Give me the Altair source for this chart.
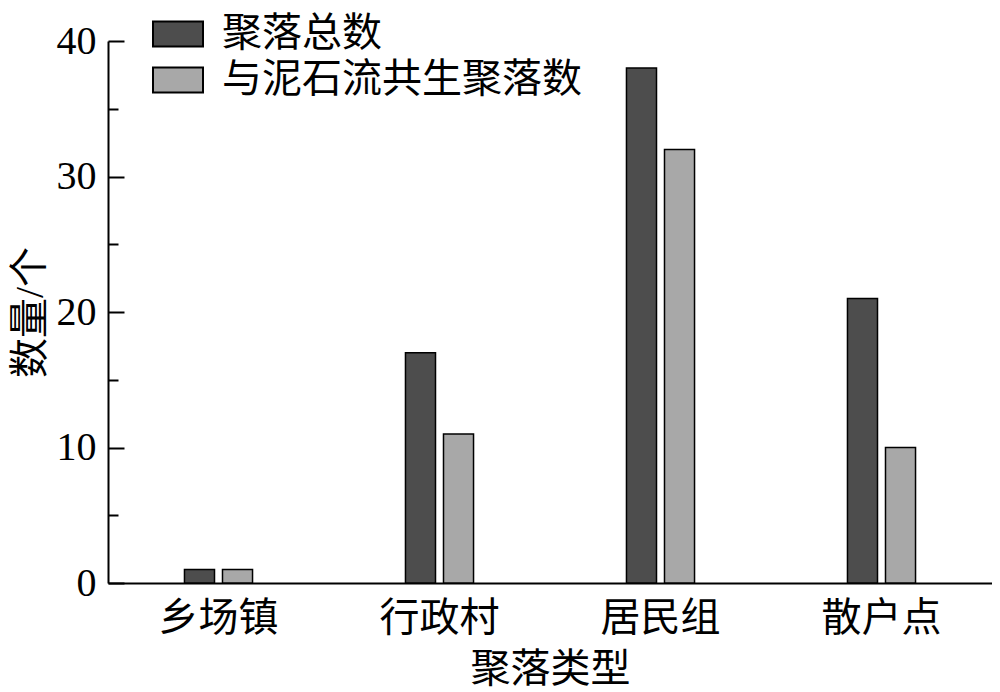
import altair as alt
import pandas as pd

categories = ["乡场镇", "行政村", "居民组", "散户点"]
series_names = ["聚落总数", "与泥石流共生聚落数"]
total_counts = [1, 17, 38, 21]
debris_counts = [1, 11, 32, 10]
major_ticks = [0, 10, 20, 30, 40]
minor_ticks = [5, 15, 25, 35]

rows = []
for c, t, d in zip(categories, total_counts, debris_counts):
    rows.append({"cat": c, "series": series_names[0], "value": t})
    rows.append({"cat": c, "series": series_names[1], "value": d})
df = pd.DataFrame(rows)

FONT = "Liberation Serif, Noto Sans CJK SC"
ysc = alt.Scale(domain=[0, 40], nice=False, zero=True)
xsc = alt.Scale(paddingInner=0.692, paddingOuter=0.346)
xenc = alt.X("cat:N", sort=categories, scale=xsc,
             axis=alt.Axis(title="聚落类型", ticks=False, labelAngle=0,
                           labelFontSize=40, labelFont=FONT, labelColor="black",
                           labelPadding=15, titleFontSize=40, titleFont=FONT,
                           titleFontWeight="normal", titleColor="black",
                           titlePadding=11, domainColor="black", domainWidth=2,
                           grid=False))
xoff = alt.XOffset("series:N", sort=series_names,
                   scale=alt.Scale(paddingInner=0.21, paddingOuter=0))

base = alt.Chart(df)

bars = base.mark_bar(stroke="black", strokeWidth=1.5).encode(
    x=xenc,
    xOffset=xoff,
    y=alt.Y("value:Q", scale=ysc,
            axis=alt.Axis(title="数量/个", values=major_ticks, ticks=False,
                          labelFontSize=40, labelFont=FONT, labelColor="black",
                          labelPadding=12, titleFontSize=40, titleFont=FONT,
                          titleFontWeight="normal", titleColor="black",
                          titlePadding=6, domainColor="black", domainWidth=2,
                          grid=False)),
    color=alt.Color("series:N", sort=series_names,
                    scale=alt.Scale(domain=series_names, range=["#4d4d4d", "#a8a8a8"]),
                    legend=alt.Legend(title=None, orient="none", legendX=44, legendY=-33,
                                      labelFontSize=40, labelFont=FONT, labelColor="black",
                                      symbolType="M-1,-0.5L1,-0.5L1,0.5L-1,0.5Z",
                                      symbolSize=2500, symbolStrokeColor="black",
                                      symbolStrokeWidth=2, symbolOpacity=1,
                                      labelOffset=18, rowPadding=0, padding=0,
                                      labelLimit=600)),
)

major = base.mark_point(opacity=0).encode(
    x=alt.X("cat:N", sort=categories, scale=xsc),
    y=alt.Y("value:Q", scale=ysc,
            axis=alt.Axis(orient="left", offset=-16, domain=False, labels=False,
                          values=major_ticks, tickSize=16, tickWidth=2,
                          tickColor="black", title=None, grid=False)),
)

minor = base.mark_point(opacity=0).encode(
    x=alt.X("cat:N", sort=categories, scale=xsc),
    y=alt.Y("value:Q", scale=ysc,
            axis=alt.Axis(orient="left", offset=-10, domain=False, labels=False,
                          values=minor_ticks, tickSize=10, tickWidth=2,
                          tickColor="black", title=None, grid=False)),
)

chart = alt.layer(bars, major, minor).resolve_scale(y="independent").properties(
    width=884, height=542,
    autosize=alt.AutoSizeParams(type="none"),
    padding={"left": 100, "top": 33, "right": 0, "bottom": 108},
    view=alt.ViewBackground(stroke="transparent", strokeWidth=0),
).configure_view(stroke="transparent", strokeWidth=0).configure_axis(
    grid=False, gridOpacity=0
).configure(background="white")

chart.save("out.html", embed_options={"renderer": "svg", "actions": False})
